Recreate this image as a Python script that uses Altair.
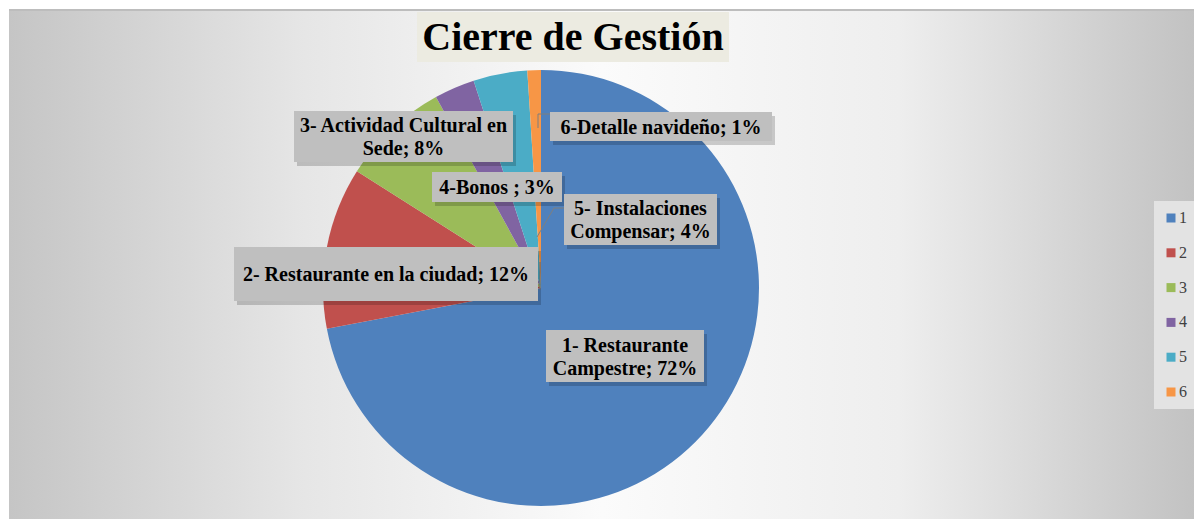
import altair as alt
import pandas as pd
import textwrap

# ---- data ----
cats = ["1", "2", "3", "4", "5", "6"]
names = ["1- Restaurante Campestre", "2- Restaurante en la ciudad",
         "3- Actividad Cultural en Sede", "4-Bonos ", "5- Instalaciones Compensar",
         "6-Detalle navideño"]
values = [72, 12, 8, 3, 4, 1]
colors = ["#4F81BD", "#C0504D", "#9BBB59", "#8064A2", "#4BACC6", "#F79646"]
title_text = "Cierre de Gestión"

# ---- layout (chart pixel coordinates) ----
W, H = 1186, 511
CX, CY, R = 532, 280, 218
LINE_H = 23
wrap_w = [15, 40, 24, 40, 16, 40]
box_x0 = [537, 225, 285, 423, 555, 541]
box_x1 = [695, 529, 504, 553, 708, 763]
box_y0 = [322, 239, 103, 164, 186, 104]
box_y1 = [374, 293, 154, 194, 237, 133]

pie = pd.DataFrame({"cat": cats, "value": values, "idx": list(range(6))})

total = sum(values)
texts, nlines = [], []
for n, v, w in zip(names, values, wrap_w):
    t = f"{n}; {round(100 * v / total)}%"
    lines = textwrap.wrap(t, w)
    texts.append("\n".join(lines))
    nlines.append(len(lines))
labels = pd.DataFrame({
    "text": texts, "n": nlines,
    "x0": box_x0, "x1": box_x1, "y0": box_y0, "y1": box_y1,
})
labels["cx"] = (labels.x0 + labels.x1) / 2
labels["cy"] = (labels.y0 + labels.y1) / 2 - (labels.n - 1) * LINE_H / 2 + 1
labels["sx0"] = labels.x0 + 3
labels["sx1"] = labels.x1 + 3
labels["sy0"] = labels.y0 + 4
labels["sy1"] = labels.y1 + 4

leaders = pd.DataFrame({
    "seg": [0, 0, 0, 1, 1, 1, 2, 2],
    "o": [0, 1, 2, 0, 1, 2, 0, 1],
    "x": [541, 529, 529, 555, 545, 528, 531, 531],
    "y": [106, 106, 120, 200, 200, 229, 254, 282],
})

bg = pd.DataFrame({"x0": [0], "x1": [W], "y0": [2], "y1": [H]})

background = alt.Chart(bg).mark_rect(
    color={"gradient": "linear", "x1": 0, "y1": 0.5, "x2": 1, "y2": 0.5,
           "stops": [{"offset": 0, "color": "#C5C5C5"},
                     {"offset": 0.25, "color": "#E6E6E6"},
                     {"offset": 0.5, "color": "#FBFBFB"},
                     {"offset": 0.75, "color": "#EEEEEE"},
                     {"offset": 1, "color": "#C2C2C2"}]}
).encode(
    x=alt.X("x0:Q", scale=None), x2="x1:Q",
    y=alt.Y("y0:Q", scale=None), y2="y1:Q",
)

topline = alt.Chart(bg).mark_rule(color="#BDBDBD", strokeWidth=2).encode(
    x=alt.X("x0:Q", scale=None), x2="x1:Q", y=alt.Y("y0:Q", scale=None)
)

tbox = pd.DataFrame({"x0": [408], "x1": [720], "y0": [4], "y1": [54],
                     "cx": [564], "cy": [30], "t": [title_text]})
title_rect = alt.Chart(tbox).mark_rect(color="#ECEBE1").encode(
    x=alt.X("x0:Q", scale=None), x2="x1:Q",
    y=alt.Y("y0:Q", scale=None), y2="y1:Q",
)
title_txt = alt.Chart(tbox).mark_text(
    font="Liberation Serif", fontWeight="bold", fontSize=40, color="#000000",
    baseline="middle", align="center"
).encode(x=alt.X("cx:Q", scale=None), y=alt.Y("cy:Q", scale=None), text="t:N")

arcs = alt.Chart(pie).mark_arc(outerRadius=R).encode(
    theta=alt.Theta("value:Q", stack=True),
    order=alt.Order("idx:Q"),
    color=alt.Color("cat:N",
                    scale=alt.Scale(domain=cats, range=colors),
                    legend=alt.Legend(
                        orient="none", legendX=1145, legendY=193, title=None,
                        symbolType="square", symbolSize=81, symbolStrokeWidth=0,
                        labelFont="Liberation Serif", labelFontSize=16,
                        labelColor="#404040", labelOffset=0, rowPadding=18.8,
                        fillColor="#E3E3E3", padding=9)),
    x=alt.value(CX), y=alt.value(CY),
)

lead = alt.Chart(leaders).mark_line(color="#7F7F7F", strokeWidth=1).encode(
    x=alt.X("x:Q", scale=None), y=alt.Y("y:Q", scale=None),
    detail="seg:N", order="o:Q",
)

shadow = alt.Chart(labels).mark_rect(color="#000000", opacity=0.18).encode(
    x=alt.X("sx0:Q", scale=None), x2="sx1:Q",
    y=alt.Y("sy0:Q", scale=None), y2="sy1:Q",
)
boxes = alt.Chart(labels).mark_rect(color="#BFBFBF").encode(
    x=alt.X("x0:Q", scale=None), x2="x1:Q",
    y=alt.Y("y0:Q", scale=None), y2="y1:Q",
)
ltext = alt.Chart(labels).mark_text(
    font="Liberation Serif", fontWeight="bold", fontSize=20, color="#000000",
    lineBreak="\n", lineHeight=LINE_H, baseline="middle", align="center"
).encode(x=alt.X("cx:Q", scale=None), y=alt.Y("cy:Q", scale=None), text="text:N")

chart = alt.layer(
    background, topline, title_rect, title_txt, arcs, lead, shadow, boxes, ltext
).properties(
    width=W, height=H, padding=0,
    autosize=alt.AutoSizeParams(type="fit", contains="padding"),
    background="#FFFFFF",
).configure_view(stroke=None)

chart.save("out.html", embed_options={"renderer": "svg", "actions": False})
